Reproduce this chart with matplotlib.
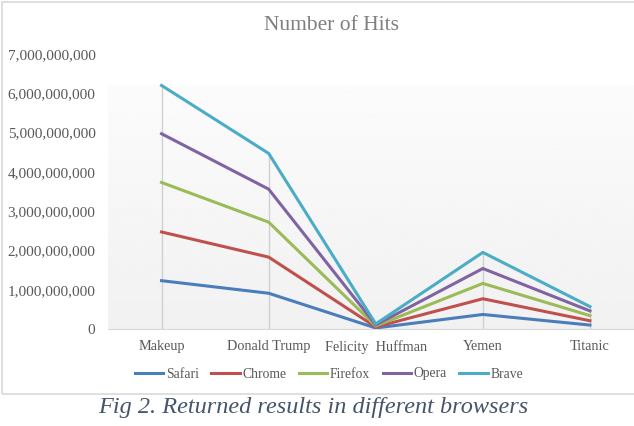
import numpy as np
import matplotlib
matplotlib.use("Agg")
import matplotlib.pyplot as plt
from matplotlib.patches import Rectangle
from matplotlib.ticker import FuncFormatter

categories = ["Makeup", "Donald Trump", "Felicity  Huffman", "Yemen", "Titanic"]
browsers = ["Safari", "Chrome", "Firefox", "Opera", "Brave"]

# hits per browser (billions), the chart stacks them
safari = [1.23, 0.91, 0.026, 0.37, 0.10]
chrome = [1.24, 0.92, 0.026, 0.40, 0.11]
firefox = [1.26, 0.89, 0.026, 0.39, 0.13]
opera = [1.24, 0.84, 0.026, 0.38, 0.12]
brave = [1.23, 0.91, 0.026, 0.41, 0.11]

colors = ["#4a7ebb", "#c0504d", "#9bbb59", "#8064a2", "#4bacc6"]

W, H = 634, 426
fig = plt.figure(figsize=(W / 100, H / 100), dpi=100)

# outer chart border
fig.patches.append(Rectangle((2 / W, 1 - 394 / H), 1.0, 392 / H,
                             transform=fig.transFigure, fill=False,
                             edgecolor="#d9d9d9", linewidth=1.2))

left, right, top, bottom = 108, 643.5, 54, 329
ax = fig.add_axes([left / W, 1 - bottom / H, (right - left) / W, (bottom - top) / H])
ax.set_facecolor("none")

# plot area fill (starts a bit below the top tick), light at top
grad = np.linspace(0.985, 0.945, 100).reshape(-1, 1)
fill_top = (bottom - 85) / (bottom - top)
ax.imshow(grad, cmap="gray", vmin=0, vmax=1, aspect="auto", origin="upper",
          extent=(0, 1, 0, fill_top), transform=ax.transAxes, zorder=0)

series = np.array([safari, chrome, firefox, opera, brave]) * 1e9
stacked = np.cumsum(series, axis=0)
x = np.arange(len(categories))

# drop lines
ax.vlines(x, 0, stacked[-1], color="#d0d0d0", linewidth=1, zorder=1)

for name, vals, c in zip(browsers, stacked, colors):
    ax.plot(x, vals, color=c, linewidth=2.2, label=name, zorder=3,
            solid_joinstyle="miter")

ax.set_xlim(-0.5, 4.5)
ax.set_ylim(0, 7e9)
ax.set_yticks(np.arange(0, 7.01e9, 1e9))
ax.yaxis.set_major_formatter(FuncFormatter(lambda v, p: f"{int(round(v)):,}"))
ax.set_xticks(x)
ax.set_xticklabels(categories)

for s in ["top", "right", "left"]:
    ax.spines[s].set_visible(False)
ax.spines["bottom"].set_color("#d9d9d9")
ax.tick_params(length=0, colors="#595959", labelsize=10.3)
ax.tick_params(axis="x", pad=8)
ax.tick_params(axis="y", pad=9, labelsize=11)
for lab in ax.get_xticklabels() + ax.get_yticklabels():
    lab.set_family("Liberation Serif")

fig.text(331 / W, 1 - 25 / H, "Number of Hits", ha="center", va="center",
         family="Liberation Serif", fontsize=15.5, color="#7f7f7f")

fig.legend(loc="center", bbox_to_anchor=(329 / W, 1 - 374 / H), ncol=5,
           frameon=False, handlelength=2.1, handletextpad=0.2, columnspacing=0.9,
           prop={"family": "Liberation Serif", "size": 9.8}, labelcolor="#595959")

fig.text(313 / W, 1 - 408 / H, "Fig 2. Returned results in different browsers",
         ha="center", va="center", family="Liberation Serif", style="italic",
         fontsize=17.5, color="#44546a")

fig.savefig("out.png", dpi=100)
